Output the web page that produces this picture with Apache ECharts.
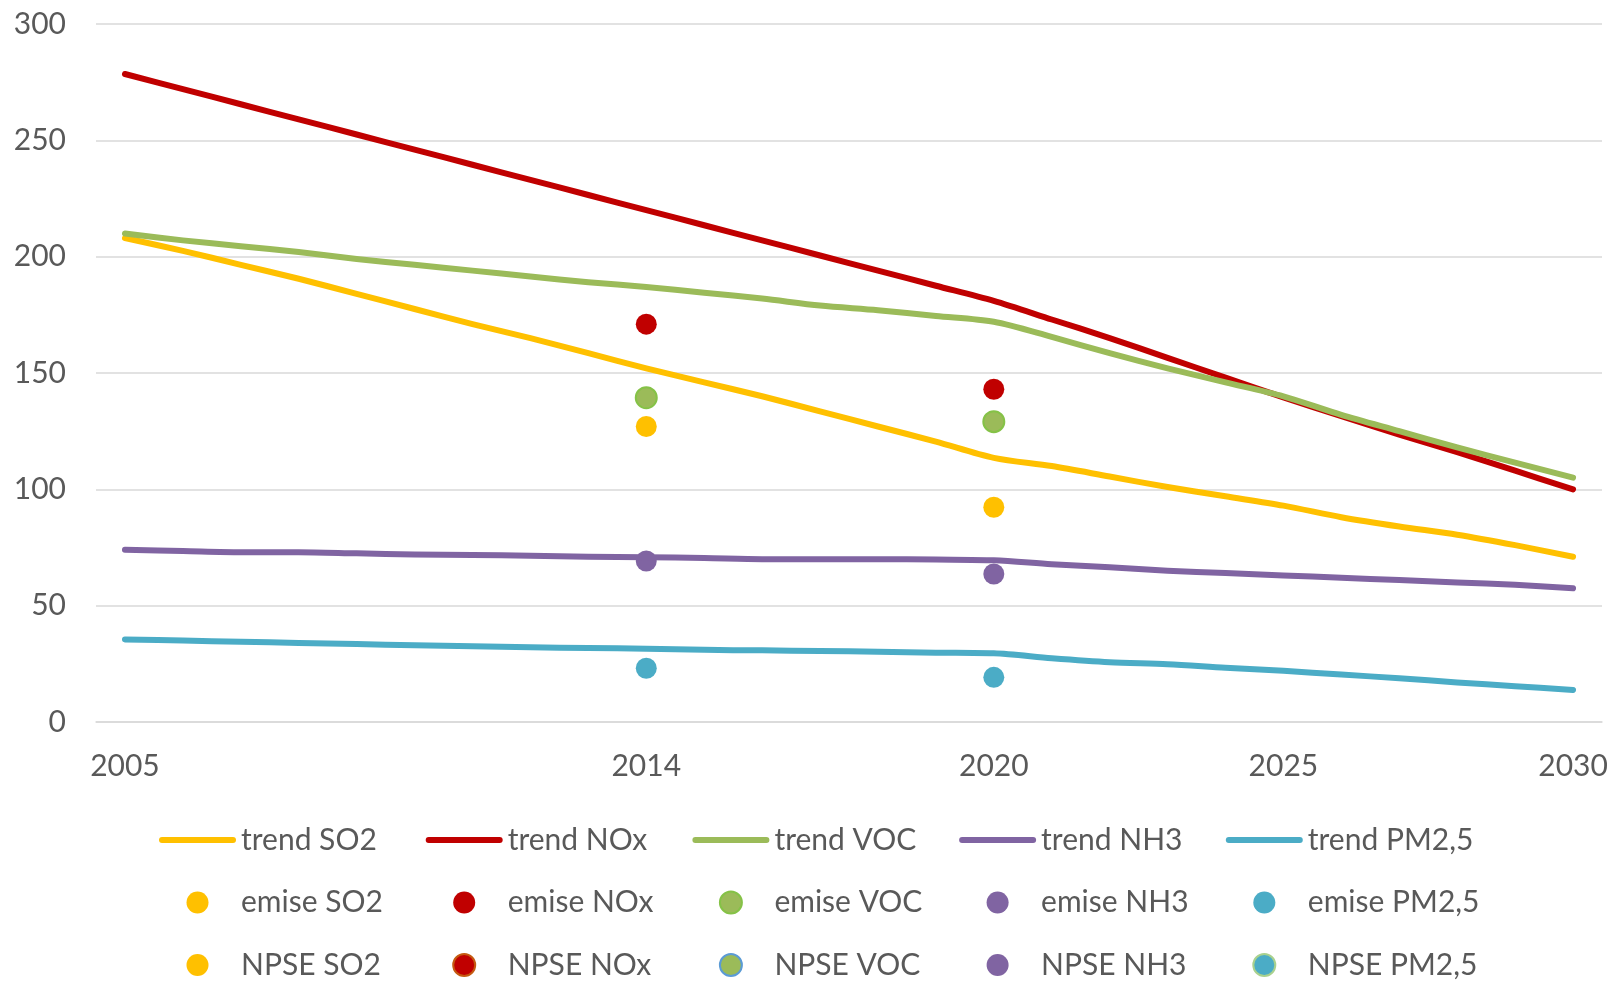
<!DOCTYPE html>
<html lang="cs">
<head>
    <meta charset="UTF-8">
    <title>Emise</title>
    <script src="https://cdn.jsdelivr.net/npm/echarts@6/dist/echarts.min.js"></script>
</head>
<style type="text/css">
    html, body { margin: 0; padding: 0; background: #fff; }
    #main { width: 1612px; height: 981px; }
</style>
<body>
<div id="main"></div>
<script type="text/javascript">
    // roky na ose x
    var years = [];
    for (var y = 2005; y <= 2030; y++) years.push(String(y));
    var shownYears = ['2005', '2014', '2020', '2025', '2030'];
    var yTicks = [0, 50, 100, 150, 200, 250, 300];

    // trendy
    var trendSO2 = [208, 202.5, 196.5, 190.5, 184, 177.5, 171, 165, 158.5, 152, 146, 140, 133.5, 127, 120.5, 113.5, 110, 105.5, 101, 97, 93, 88, 84, 80.5, 76, 71];
    var trendNOx = [278.5, 272, 265.5, 259, 252.5, 246, 239.5, 233, 226.5, 220, 213.5, 207, 200.5, 194, 187.5, 181, 173, 165, 156.5, 148, 139.5, 131.5, 123.5, 116, 108, 100];
    var trendVOC = [210, 207, 204.5, 202, 199, 196.5, 194, 191.5, 189, 187, 184.5, 182, 179, 177, 174.5, 172, 165.5, 158.5, 152, 146, 140, 132, 125, 118, 111.5, 105];
    var trendNH3 = [74, 73.5, 73, 73, 72.5, 72, 71.8, 71.5, 71, 70.8, 70.5, 70, 70, 70, 69.8, 69.5, 67.8, 66.5, 65, 64, 63, 62, 61, 60, 59, 57.5];
    var trendPM = [35.5, 35, 34.5, 34, 33.5, 33, 32.6, 32.1, 31.8, 31.5, 31, 30.8, 30.5, 30.2, 29.8, 29.5, 27.4, 25.7, 24.8, 23.3, 22, 20.4, 18.8, 17, 15.4, 13.8];

    // emise v jednotlivých letech
    var emiseYears = ['2014', '2020'];
    var emiseSO2 = [127, 92.3];
    var emiseNOx = [171, 143];
    var emiseVOC = [139.4, 129.1];
    var emiseNH3 = [69.2, 63.6];
    var emisePM = [23.1, 19.2];

    var cSO2 = '#FFC000', cNOx = '#C00000', cVOC = '#9BBB59', cNH3 = '#8064A2', cPM = '#4BACC6';
    var fontF = 'Lato, "Open Sans", sans-serif';
    var txt = '#595959';
    var lineIcon = 'path://M3,0 L74,0 Q77,0 77,3 Q77,6 74,6 L3,6 Q0,6 0,3 Q0,0 3,0 Z';

    function pairs(xs, vs) {
        var out = [];
        for (var i = 0; i < xs.length; i++) out.push([xs[i], vs[i]]);
        return out;
    }
    function trend(name, data, color) {
        return {name: name, type: 'line', data: data, smooth: 0.3, symbol: 'none',
            lineStyle: {color: color, width: 6, cap: 'round', join: 'round'}, itemStyle: {color: color}};
    }
    function dots(name, data, color, border) {
        var s = {name: name, type: 'scatter', data: data, symbol: 'circle', symbolSize: 21, itemStyle: {color: color, opacity: 1}};
        if (border) { s.itemStyle.borderColor = border; s.itemStyle.borderWidth = 2; }
        return s;
    }

    var cols = [
        ['SO2', 'NOx', 'VOC', 'NH3', 'PM2,5'],
    ][0];
    var legends = [];
    for (var i = 0; i < cols.length; i++) {
        legends.push({
            orient: 'vertical', left: 154 + i * 266.7, top: 820, height: 200,
            itemWidth: 77, itemHeight: 22, itemGap: 32.5,
            data: [
                {name: 'trend ' + cols[i], icon: lineIcon},
                {name: 'emise ' + cols[i]},
                {name: 'NPSE ' + cols[i]}
            ],
            selectedMode: false,
            textStyle: {color: txt, fontSize: 30, fontFamily: fontF}
        });
    }

    var myChart = echarts.init(document.getElementById('main'));
    var option = {
        animation: false,
        backgroundColor: '#fff',
        grid: {left: 96, right: 10, top: 24, bottom: 259},
        legend: legends,
        xAxis: {
            type: 'category', data: years, boundaryGap: true,
            axisLine: {lineStyle: {color: '#D9D9D9', width: 1.5}},
            axisTick: {show: false},
            axisLabel: {
                interval: function (idx, val) { return shownYears.indexOf(val) >= 0; },
                color: txt, fontSize: 30, fontFamily: fontF, margin: 29
            }
        },
        yAxis: {
            type: 'value', min: yTicks[0], max: yTicks[yTicks.length - 1], interval: 50,
            axisLine: {show: false}, axisTick: {show: false},
            splitLine: {lineStyle: {color: '#D9D9D9', width: 1.5}},
            axisLabel: {color: txt, fontSize: 30, fontFamily: fontF, margin: 30}
        },
        series: [
            trend('trend SO2', trendSO2, cSO2),
            trend('trend NOx', trendNOx, cNOx),
            trend('trend VOC', trendVOC, cVOC),
            trend('trend NH3', trendNH3, cNH3),
            trend('trend PM2,5', trendPM, cPM),
            dots('emise SO2', pairs(emiseYears, emiseSO2), cSO2),
            dots('emise NOx', pairs(emiseYears, emiseNOx), cNOx),
            dots('emise VOC', pairs(emiseYears, emiseVOC), cVOC, '#85C247'),
            dots('emise NH3', pairs(emiseYears, emiseNH3), cNH3),
            dots('emise PM2,5', pairs(emiseYears, emisePM), cPM),
            dots('NPSE SO2', [], cSO2),
            dots('NPSE NOx', [], cNOx, '#C55A11'),
            dots('NPSE VOC', [], cVOC, '#5B9BD5'),
            dots('NPSE NH3', [], cNH3),
            dots('NPSE PM2,5', [], cPM, '#A9D18E')
        ]
    };
    myChart.setOption(option);
</script>
</body>
</html>
